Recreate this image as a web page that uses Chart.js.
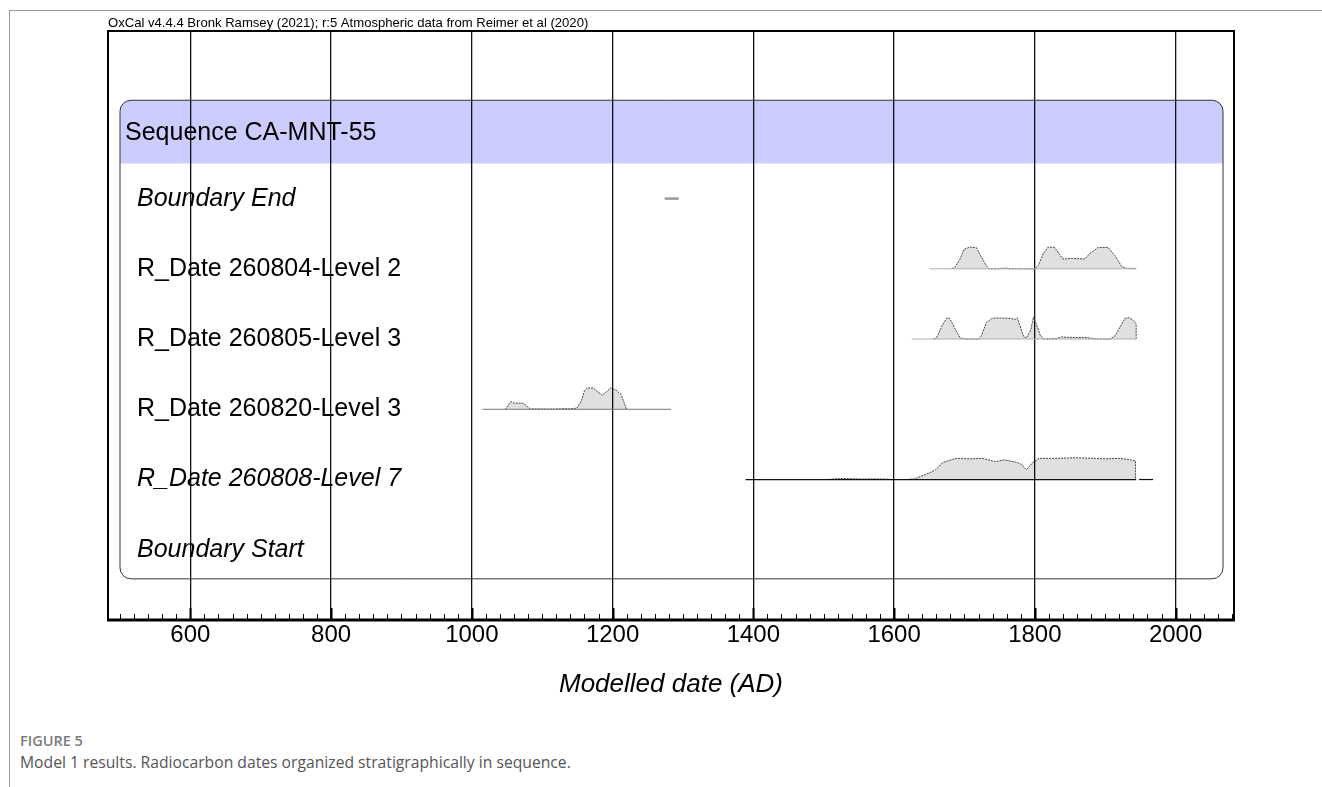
<!DOCTYPE html>
<html lang="en">
<head>
<meta charset="UTF-8">
<title>OxCal sequence CA-MNT-55</title>
<script src="https://cdn.jsdelivr.net/npm/chart.js@4.4.0/dist/chart.umd.min.js"></script>
<style>
  body {
    margin: 0;
    width: 1322px;
    height: 787px;
    background: #fff;
    position: relative;
    overflow: hidden;
    font-family: Arial, "Liberation Sans", sans-serif;
  }
  .frame {
    position: absolute;
    left: 9px;
    top: 10px;
    width: 1400px;
    height: 900px;
    border: 1px solid #9a9a9a;
  }
  #wrap {
    position: absolute;
    left: 0;
    top: 0;
  }
  .caption {
    position: absolute;
    left: 20px;
    top: 730px;
    font-family: "Open Sans", sans-serif;
    line-height: 1.45;
  }
  .caption .fig { font-size: 14.5px; font-weight: 600; color: #7a7a7a; }
  .caption .txt { font-size: 15.7px; color: #555; }
</style>
</head>
<body>
<div class="frame"></div>
<div id="wrap"><canvas id="canvas" width="1322" height="720"></canvas></div>
<div class="caption">
  <div class="fig">FIGURE 5</div>
  <div class="txt">Model 1 results. Radiocarbon dates organized stratigraphically in sequence.</div>
</div>

<script>
// axis
const xMin = 483;
const xMax = 2083;
const tickValues = [600, 800, 1000, 1200, 1400, 1600, 1800, 2000];
const minorStep = 20;

const topNote = 'OxCal v4.4.4 Bronk Ramsey (2021); r:5 Atmospheric data from Reimer et al (2020)';
const sequenceLabel = 'Sequence CA-MNT-55';
const rowLabels = ['Boundary End', 'R_Date 260804-Level 2', 'R_Date 260805-Level 3',
                   'R_Date 260820-Level 3', 'R_Date 260808-Level 7', 'Boundary Start'];
const rowItalic = [true, false, false, false, true, true];

// Boundary End (tiny range)
const endRange = [1274, 1294];

// R_Date 260804-Level 2
const d804Range = [1650, 1944];
const d804Years = [1682, 1687, 1694, 1699, 1708, 1717, 1724, 1731, 1735, 1750, 1753, 1761, 1763,
                   1800, 1805, 1812, 1819, 1828, 1840, 1854, 1871, 1878, 1890, 1904, 1914, 1923, 1930, 1940, 1944];
const d804Prob  = [0, 0.1, 0.46, 0.89, 1.0, 0.97, 0.54, 0.15, 0, 0, 0.03, 0.03, 0,
                   0, 0.15, 0.7, 1.0, 0.98, 0.45, 0.48, 0.45, 0.7, 0.98, 0.98, 0.6, 0.12, 0.02, 0.02, 0];

// R_Date 260805-Level 3
const d805Range = [1625, 1944];
const d805Years = [1656, 1661, 1668, 1675, 1679, 1687, 1694, 1701, 1720, 1724, 1731, 1739, 1746, 1765,
                   1772, 1775, 1779, 1784, 1788, 1794, 1798, 1802, 1808, 1813, 1831, 1838, 1845, 1873,
                   1883, 1892, 1907, 1914, 1921, 1928, 1934, 1940, 1944, 1944];
const d805Prob  = [0, 0.1, 0.6, 0.97, 0.95, 0.45, 0.05, 0, 0, 0.15, 0.75, 0.95, 0.97, 0.95,
                   0.9, 0.97, 0.6, 0.12, 0.05, 0.4, 1.0, 0.7, 0.15, 0, 0.02, 0.1, 0.08, 0.07,
                   0.02, 0, 0, 0.15, 0.55, 0.95, 0.98, 0.85, 0.7, 0];

// R_Date 260820-Level 3
const d820Range = [1015, 1283];
const d820Years = [1047, 1050, 1055, 1061, 1073, 1078, 1083, 1115, 1132, 1139, 1149, 1156, 1160,
                   1164, 1173, 1179, 1185, 1191, 1197, 1205, 1212, 1217, 1220];
const d820Prob  = [0, 0.1, 0.35, 0.28, 0.28, 0.15, 0.02, 0.01, 0.03, 0.02, 0.05, 0.4, 0.85,
                   0.98, 0.98, 0.8, 0.65, 0.8, 0.98, 0.88, 0.68, 0.25, 0];

// R_Date 260808-Level 7 (outlier line runs wider)
const d808Range = [1389, 1944];
const d808Tail  = [1948, 1968];
const d808Years = [1503, 1508, 1527, 1536, 1555, 1569, 1588, 1598, 1617, 1629, 1650, 1659, 1669,
                   1688, 1707, 1726, 1744, 1756, 1773, 1780, 1788, 1797, 1806, 1830, 1858, 1886,
                   1901, 1919, 1934, 1943, 1943];
const d808Prob  = [0, 0.01, 0.05, 0.04, 0.02, 0.03, 0.02, 0, 0, 0.03, 0.3, 0.45, 0.78,
                   0.97, 0.95, 0.97, 0.82, 0.9, 0.8, 0.72, 0.45, 0.78, 0.97, 0.97, 1.0, 0.97,
                   0.95, 0.97, 0.92, 0.85, 0];

const peak = 0.31; // height of a full-probability curve, in row units

function dist(row, years, probs) {
  return {
    data: years.map((x, i) => ({ x: x, y: row - probs[i] * peak })),
    fill: { value: row },
    backgroundColor: 'rgba(0,0,0,0.12)',
    borderColor: '#444',
    borderWidth: 1,
    borderDash: [2, 1],
    pointRadius: 0,
    tension: 0
  };
}

function range(row, span, color, width) {
  return {
    data: [{ x: span[0], y: row }, { x: span[1], y: row }],
    fill: false,
    borderColor: color,
    borderWidth: width,
    pointRadius: 0
  };
}

const datasets = [
  range(1, endRange, '#9a9a9a', 2.5),
  range(2, d804Range, '#b0b0b0', 1),
  dist(2, d804Years, d804Prob),
  range(3, d805Range, '#b0b0b0', 1),
  dist(3, d805Years, d805Prob),
  range(4, d820Range, '#777', 1),
  dist(4, d820Years, d820Prob),
  range(5, d808Range, '#111', 1.2),
  range(5, d808Tail, '#111', 1.2),
  dist(5, d808Years, d808Prob)
];

function roundBox(ctx, x, y, w, h, r, bottomRound) {
  ctx.beginPath();
  ctx.moveTo(x + r, y);
  ctx.lineTo(x + w - r, y);
  ctx.arcTo(x + w, y, x + w, y + r, r);
  if (bottomRound) {
    ctx.lineTo(x + w, y + h - r);
    ctx.arcTo(x + w, y + h, x + w - r, y + h, r);
    ctx.lineTo(x + r, y + h);
    ctx.arcTo(x, y + h, x, y + h - r, r);
  } else {
    ctx.lineTo(x + w, y + h);
    ctx.lineTo(x, y + h);
  }
  ctx.lineTo(x, y + r);
  ctx.arcTo(x, y, x + r, y, r);
  ctx.closePath();
}

const oxcalPlugin = {
  id: 'oxcal',
  beforeDraw(chart) {
    const { ctx, chartArea: a, scales: { y } } = chart;
    const left = a.left + 12, right = a.right - 11;
    const top = y.getPixelForValue(-0.4);
    const bandBottom = y.getPixelForValue(0.5);
    const bottom = y.getPixelForValue(6.414);
    ctx.save();
    // sequence band
    roundBox(ctx, left, top, right - left, bandBottom - top, 11, false);
    ctx.fillStyle = '#ccccff';
    ctx.fill();
    // sequence box outline
    roundBox(ctx, left, top, right - left, bottom - top, 11, true);
    ctx.strokeStyle = '#333';
    ctx.lineWidth = 1;
    ctx.stroke();
    ctx.restore();
  },
  afterDraw(chart) {
    const { ctx, chartArea: a, scales: { x, y } } = chart;
    ctx.save();
    // labels
    ctx.fillStyle = '#000';
    ctx.textBaseline = 'middle';
    ctx.textAlign = 'left';
    ctx.font = '25px Arial, "Liberation Sans", sans-serif';
    ctx.fillText(sequenceLabel, a.left + 17, (y.getPixelForValue(-0.4) + y.getPixelForValue(0.5)) / 2 + 1);
    rowLabels.forEach((t, i) => {
      ctx.font = (rowItalic[i] ? 'italic ' : '') + '25px Arial, "Liberation Sans", sans-serif';
      ctx.fillText(t, a.left + 29, y.getPixelForValue(i + 1));
    });
    ctx.font = '13.1px Arial, "Liberation Sans", sans-serif';
    ctx.textBaseline = 'alphabetic';
    ctx.fillText(topNote, a.left, a.top - 4);
    // frame
    ctx.strokeStyle = '#000';
    ctx.lineWidth = 2;
    ctx.strokeRect(a.left, a.top, a.right - a.left, a.bottom - a.top);
    ctx.lineWidth = 3;
    ctx.beginPath();
    ctx.moveTo(a.left - 1, a.bottom);
    ctx.lineTo(a.right + 1, a.bottom);
    ctx.stroke();
    // minor ticks
    for (let v = Math.ceil(xMin / minorStep) * minorStep; v <= xMax; v += minorStep) {
      const px = Math.round(x.getPixelForValue(v)) + 0.5;
      const major = tickValues.includes(v);
      ctx.lineWidth = major ? 2 : 1;
      ctx.beginPath();
      ctx.moveTo(px, a.bottom);
      ctx.lineTo(px, a.bottom - (major ? 12 : 6));
      ctx.stroke();
    }
    ctx.restore();
  }
};

new Chart(document.getElementById('canvas'), {
  type: 'line',
  data: { datasets: datasets },
  plugins: [oxcalPlugin],
  options: {
    responsive: false,
    animation: false,
    devicePixelRatio: 1,
    layout: { padding: { left: 108, right: 88, top: 31, bottom: 20 } },
    plugins: { legend: { display: false }, tooltip: { enabled: false } },
    scales: {
      x: {
        type: 'linear',
        min: xMin,
        max: xMax,
        afterBuildTicks: s => { s.ticks = tickValues.map(v => ({ value: v })); },
        grid: { color: '#111', lineWidth: 1.3, drawTicks: false },
        border: { display: false },
        ticks: {
          color: '#000',
          padding: 1,
          maxRotation: 0,
          callback: v => String(v),
          font: { family: 'Arial, "Liberation Sans", sans-serif', size: 24 }
        },
        title: {
          display: true,
          text: 'Modelled date (AD)',
          color: '#000',
          padding: { top: 18, bottom: 0 },
          font: { family: 'Arial, "Liberation Sans", sans-serif', size: 26, style: 'italic' }
        }
      },
      y: {
        type: 'linear',
        display: false,
        reverse: true,
        min: -1.386,
        max: 7
      }
    }
  }
});
</script>
</body>
</html>
